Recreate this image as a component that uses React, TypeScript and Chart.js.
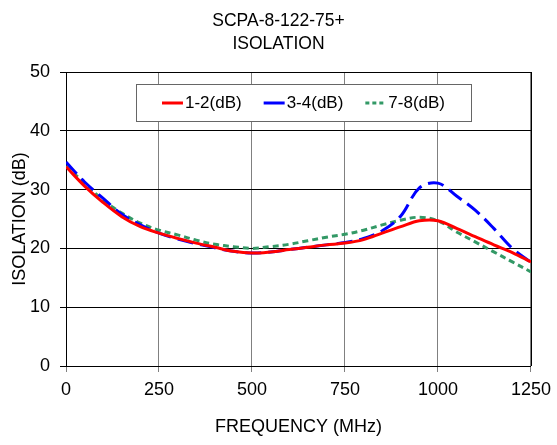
import React, { useEffect, useRef } from 'react';
import { Chart, registerables } from 'chart.js';

Chart.register(...registerables);

const TITLE_LINES = ['SCPA-8-122-75+', 'ISOLATION'];
const X_TITLE = 'FREQUENCY (MHz)';
const Y_TITLE = 'ISOLATION (dB)';
const SERIES_LABELS = ['1-2(dB)', '3-4(dB)', '7-8(dB)'];
const X_TICKS = [0, 250, 500, 750, 1000, 1250];
const Y_TICKS = [0, 10, 20, 30, 40, 50];

const FREQ_MHZ = [0, 50, 100, 150, 200, 250, 300, 350, 400, 450, 500, 550, 600, 650, 700, 750, 800, 850, 900, 950, 1000, 1050, 1100, 1150, 1200, 1250];
const ISO_12 = [33.9, 30.6, 27.8, 25.4, 23.7, 22.6, 21.7, 20.9, 20.2, 19.5, 19.2, 19.4, 19.8, 20.2, 20.6, 20.9, 21.5, 22.6, 23.7, 24.7, 24.7, 23.4, 22.0, 20.6, 19.3, 17.7];
const ISO_34 = [34.7, 31.3, 28.5, 25.8, 24.0, 22.6, 21.6, 20.8, 20.1, 19.5, 19.2, 19.4, 19.8, 20.2, 20.6, 21.0, 21.7, 23.0, 25.5, 30.3, 31.1, 28.9, 26.5, 23.4, 20.0, 17.6];
const ISO_78 = [34.0, 31.1, 28.2, 26.0, 24.3, 23.1, 22.3, 21.4, 20.7, 20.3, 20.0, 20.3, 20.7, 21.3, 21.9, 22.4, 23.1, 24.0, 24.8, 25.3, 24.7, 22.8, 21.1, 19.4, 17.7, 16.0];

function hasFont(name: string): boolean {
  const c = document.createElement('canvas').getContext('2d');
  if (!c) return false;
  const s = 'FREQUENCY 1250 ISOLATION';
  c.font = '40px monospace';
  const a = c.measureText(s).width;
  c.font = `40px "${name}", monospace`;
  const b = c.measureText(s).width;
  return Math.abs(a - b) > 0.5;
}

export default function App() {
  const ref = useRef<HTMLCanvasElement | null>(null);

  useEffect(() => {
    document.body.style.margin = '0';
    const canvas = ref.current;
    if (!canvas) return;
    const narrow = hasFont('Liberation Sans Narrow');
    const family = narrow ? '"Liberation Sans Narrow", "Liberation Sans", Arial, sans-serif' : '"Liberation Sans", Arial, sans-serif';
    const S = narrow ? 21 : 18; // tick / axis title
    const ST = narrow ? 20 : 17.5; // chart title
    const SL = narrow ? 20 : 17; // legend

    const legendDash: number[][] = [[], [], [4, 3]];

    const legendPlugin = {
      id: 'boxLegend',
      afterDraw(chart: any) {
        const { ctx, chartArea } = chart;
        const boxL = Math.round(chartArea.left + 70);
        const boxT = Math.round(chartArea.top + 12);
        const boxW = 335;
        const boxH = 37;
        ctx.save();
        ctx.fillStyle = '#ffffff';
        ctx.fillRect(boxL, boxT, boxW, boxH);
        ctx.strokeStyle = '#666666';
        ctx.lineWidth = 1;
        ctx.strokeRect(boxL + 0.5, boxT + 0.5, boxW, boxH);
        ctx.font = `${SL}px ${family}`;
        const lineLen = 21;
        const gap = 2;
        const spacing = 22;
        const items = chart.data.datasets.map((ds: any, i: number) => ({ ds, i, w: ctx.measureText(ds.label).width }));
        const total = items.reduce((a: number, it: any) => a + lineLen + gap + it.w, 0) + spacing * (items.length - 1);
        let x = boxL + (boxW - total) / 2;
        const cy = boxT + boxH / 2 + 0.5;
        items.forEach(({ ds, i, w }: any) => {
          ctx.strokeStyle = ds.borderColor;
          ctx.lineWidth = ds.borderWidth;
          ctx.setLineDash(legendDash[i]);
          ctx.beginPath();
          ctx.moveTo(x, cy);
          ctx.lineTo(x + lineLen, cy);
          ctx.stroke();
          ctx.setLineDash([]);
          ctx.fillStyle = '#000000';
          ctx.textBaseline = 'middle';
          ctx.textAlign = 'left';
          ctx.fillText(ds.label, x + lineLen + gap, cy);
          x += lineLen + gap + w + spacing;
        });
        ctx.restore();
      },
    };

    const framePlugin = {
      id: 'frame',
      beforeDatasetsDraw(chart: any) {
        const { ctx, chartArea } = chart;
        ctx.save();
        ctx.strokeStyle = '#000000';
        ctx.lineWidth = 1;
        ctx.beginPath();
        const r = Math.round(chartArea.right) + 0.5;
        ctx.moveTo(r, chartArea.top);
        ctx.lineTo(r, chartArea.bottom);
        ctx.stroke();
        ctx.restore();
      },
    };

    const toPts = (ys: number[]) => FREQ_MHZ.map((f, i) => ({ x: f, y: ys[i] }));

    const chart = new Chart(canvas, {
      type: 'line',
      data: {
        datasets: [
          { label: SERIES_LABELS[0], data: toPts(ISO_12), borderColor: '#ff0000', borderWidth: 3, pointRadius: 0, tension: 0.35, fill: false },
          { label: SERIES_LABELS[1], data: toPts(ISO_34), borderColor: '#0000ff', borderWidth: 3, borderDash: [16, 7], pointRadius: 0, tension: 0.35, fill: false },
          { label: SERIES_LABELS[2], data: toPts(ISO_78), borderColor: '#339966', borderWidth: 3, borderDash: [6, 4], pointRadius: 0, tension: 0.35, fill: false },
        ],
      },
      options: {
        responsive: false,
        animation: false,
        devicePixelRatio: 1,
        layout: { padding: { left: 0, right: 0, top: 0, bottom: 0 } },
        plugins: {
          legend: { display: false },
          tooltip: { enabled: false },
          title: {
            display: true,
            text: TITLE_LINES,
            color: '#000000',
            font: { family, size: ST, lineHeight: 23 / ST, weight: 'normal' },
            padding: { top: 21 - 11.5, bottom: 72 - (21 - 11.5) - 46 },
          },
        },
        scales: {
          x: {
            type: 'linear',
            min: X_TICKS[0],
            max: X_TICKS[X_TICKS.length - 1],
            afterBuildTicks: (s: any) => { s.ticks = X_TICKS.map((v) => ({ value: v })); },
            afterFit: (s: any) => { s.height = 79; },
            grid: { color: '#808080', lineWidth: 1, tickLength: 6, drawTicks: true },
            border: { color: '#000000', width: 1 },
            ticks: { color: '#000000', font: { family, size: S, lineHeight: 25 / S }, padding: 6, maxRotation: 0, callback: (v: any) => String(v) },
            title: { display: true, text: X_TITLE, color: '#000000', font: { family, size: S, lineHeight: 1 }, padding: { top: 0, bottom: 18 - S / 2 } },
          },
          y: {
            type: 'linear',
            min: Y_TICKS[0],
            max: Y_TICKS[Y_TICKS.length - 1],
            afterBuildTicks: (s: any) => { s.ticks = Y_TICKS.map((v) => ({ value: v })); },
            afterFit: (s: any) => { s.width = 66; },
            grid: { color: '#000000', lineWidth: 1, tickLength: 6, drawTicks: true },
            border: { color: '#000000', width: 1 },
            ticks: { color: '#000000', font: { family, size: S, lineHeight: 1 }, padding: 10, callback: (v: any) => String(v) },
            title: { display: true, text: Y_TITLE, color: '#000000', font: { family, size: S, lineHeight: 1 }, padding: { top: 20 - S / 2, bottom: 0 } },
          },
        },
      },
      plugins: [framePlugin, legendPlugin],
    } as any);

    return () => chart.destroy();
  }, []);

  return (
    <div style={{ width: 557, height: 445 }}>
      <canvas ref={ref} width={557} height={445} style={{ width: 557, height: 445, display: 'block' }} />
    </div>
  );
}
